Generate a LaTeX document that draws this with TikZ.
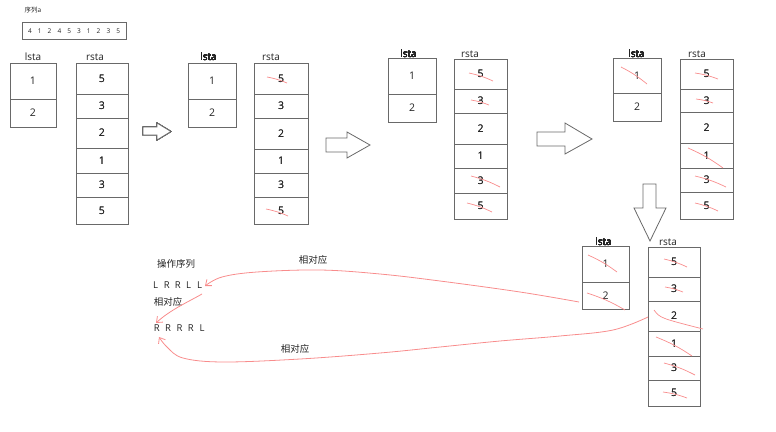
\documentclass[tikz,border=0pt]{standalone}
\usepackage{fontspec}
\setmainfont{Open Sans}
\newfontfamily\cjkfont{Noto Sans CJK SC}
\usetikzlibrary{arrows.meta}
\definecolor{boxgray}{RGB}{105,105,105}
\definecolor{pinkred}{RGB}{248,140,140}
\definecolor{darktext}{RGB}{35,35,35}
\tikzset{
 cellbox/.style={draw=boxgray, line width=0.8pt, inner sep=0pt, outer sep=0pt, font=\fontsize{10.5}{12}\selectfont, text=darktext},
 lbl/.style={inner sep=0pt, font=\fontsize{10}{12}\selectfont, text=darktext},
 blockarrow/.style={draw=boxgray, line width=0.8pt, fill=white, line join=miter},
 strike/.style={draw=pinkred, line width=0.7pt},
 redlink/.style={draw=pinkred, line width=0.8pt, -{Straight Barb[length=5pt,width=8pt]}},
 small/.style={inner sep=0pt, font=\fontsize{6.5}{8}\selectfont, text=darktext},
 note/.style={inner sep=0pt, font=\fontsize{9.5}{11}\selectfont, text=darktext},
}
\newcommand\cellnode[6]{\node[cellbox, minimum width={(#4-#2)*1pt}, minimum height={(#5-#3)*1pt}] (#1) at ({(#2+#4)/2},{(#3+#5)/2}) {#6};}
\begin{document}
\begin{tikzpicture}[x=1pt,y=-1pt]
\useasboundingbox (0,0) rectangle (776,431);
% title and sequence
\node[small] (title) at (33,10) {{\cjkfont 序列}a};
\node[draw=boxgray, line width=0.7pt, minimum width=104pt, minimum height=17pt, inner sep=0pt] (seqbox) at (74,31) {};
\foreach \dg [count=\i from 0] in {4,1,2,4,5,3,1,2,3,5}
  \node[small] (seq\i) at ({30+\i*9.8},31.5) {\dg};
% group 1
\node[lbl] (g1lt) at (33,57) {lsta};
\node[lbl] (g1rt) at (95,57) {rsta};
\foreach \ya/\yb/\val [count=\i] in {63/99/1,99/127/2}
  \cellnode{g1l\i}{10}{\ya}{56}{\yb}{\val}
\foreach \ya/\yb/\val [count=\i] in {63/94/5,94/118/3,118/148/2,148/173/1,173/197/3,197/224/5}
  \cellnode{g1r\i}{76}{\ya}{128}{\yb}{\val}
% group 2
\node[lbl] (g2lt) at (208.5,57) {lsta};
\node[lbl] (g2rt) at (271,57) {rsta};
\foreach \ya/\yb/\val [count=\i] in {63/99/1,99/127/2}
  \cellnode{g2l\i}{188}{\ya}{236}{\yb}{\val}
\foreach \ya/\yb/\val [count=\i] in {63/94/5,94/118/3,118/149/2,149/173/1,173/197/3,197/224/5}
  \cellnode{g2r\i}{254}{\ya}{308}{\yb}{\val}
% group 3
\node[lbl] (g3lt) at (408.5,54) {lsta};
\node[lbl] (g3rt) at (470,54) {rsta};
\foreach \ya/\yb/\val [count=\i] in {58/94/1,94/122/2}
  \cellnode{g3l\i}{388}{\ya}{436}{\yb}{\val}
\foreach \ya/\yb/\val [count=\i] in {59/89/5,89/113/3,113/144/2,144/168/1,168/193/3,193/219/5}
  \cellnode{g3r\i}{454}{\ya}{507}{\yb}{\val}
% group 4
\node[lbl] (g4lt) at (636.5,54) {lsta};
\node[lbl] (g4rt) at (697,54) {rsta};
\foreach \ya/\yb/\val [count=\i] in {58/93/1,93/121/2}
  \cellnode{g4l\i}{613}{\ya}{661}{\yb}{\val}
\foreach \ya/\yb/\val [count=\i] in {59/89/5,89/112/3,112/143/2,143/168/1,168/192/3,192/219/5}
  \cellnode{g4r\i}{680}{\ya}{733}{\yb}{\val}
% group 5
\node[lbl] (g5lt) at (603.5,242) {lsta};
\node[lbl] (g5rt) at (668,242) {rsta};
\foreach \ya/\yb/\val [count=\i] in {246/282/1,282/309/2}
  \cellnode{g5l\i}{582}{\ya}{629}{\yb}{\val}
\foreach \ya/\yb/\val [count=\i] in {247/277/5,277/301/3,301/331/2,331/356/1,356/380/3,380/406/5}
  \cellnode{g5r\i}{648}{\ya}{700}{\yb}{\val}
% block arrows
\draw[blockarrow] (143,127) -- (157,127) -- (157,123) -- (171,131.5) -- (157,140) -- (157,135) -- (143,135) -- cycle;
\draw[blockarrow] (326,138) -- (347,138) -- (347,132) -- (370,145) -- (347,158) -- (347,152) -- (326,152) -- cycle;
\draw[blockarrow] (537,132) -- (565,132) -- (565,123) -- (592,139) -- (565,154) -- (565,146) -- (537,146) -- cycle;
\draw[blockarrow] (643,184) -- (656,184) -- (656,208) -- (666,208) -- (650,241) -- (634,208) -- (643,208) -- cycle;
% strikes group 2
\draw[strike] (267,77) to[bend left=6] (287,83);
\draw[strike] (266,209) to[bend left=6] (288,216);
% strikes group 3
\draw[strike] (469,73) to[bend left=6] (493,81);
\draw[strike] (471,100) to[bend left=6] (489,105);
\draw[strike] (471,176) to[bend left=6] (500,187);
\draw[strike] (467,203) to[bend left=6] (492,212);
% strikes group 4
\draw[strike] (621,67) to[bend left=6] (647,84);
\draw[strike] (695,73) to[bend left=6] (718,79);
\draw[strike] (696,99) to[bend left=6] (713,103);
\draw[strike] (688,148) to[bend left=6] (723,168);
\draw[strike] (695,176) to[bend left=6] (726,187);
\draw[strike] (695,203) to[bend left=6] (718,211);
% strikes group 5
\draw[strike] (588,255) to[bend left=6] (617,272);
\draw[strike] (587,293) to[bend left=6] (625,310);
\draw[strike] (664,259) to[bend left=6] (687,267);
\draw[strike] (665,287) to[bend left=6] (683,292);
\draw[strike] (654,310) .. controls (660,318) .. (703,329);
\draw[strike] (656,337) to[bend left=6] (692,356);
\draw[strike] (664,363) to[bend left=6] (695,375);
\draw[strike] (663,392) to[bend left=6] (687,398);
% bottom texts
\node[note] (optitle) at (176,264) {\cjkfont 操作序列};
\node[note, anchor=west] (ops1) at (150,285) {\makebox[11pt]{L}\makebox[11pt]{R}\makebox[11pt]{R}\makebox[11pt]{L}\makebox[11pt]{L}};
\node[note] (corr1) at (168,302) {\cjkfont 相对应};
\node[note, anchor=west] (ops2) at (151,328) {\makebox[11.3pt]{R}\makebox[11.3pt]{R}\makebox[11.3pt]{R}\makebox[11.3pt]{R}\makebox[11.3pt]{L}};
\node[note] (corr2) at (313,260) {\cjkfont 相对应};
\node[note] (corr3) at (295,349) {\cjkfont 相对应};
% red connectors
\coordinate (u0) at (579,302);
\coordinate (uL) at (205,286);
\coordinate (d0) at (648,317);
\coordinate (dR) at (159,337);
\coordinate (mL) at (202,294);
\coordinate (mR) at (156,323);
\draw[redlink] plot[smooth, tension=0.6] coordinates {(u0) (520,292) (440,281) (380,274) (320,270) (257,272) (222,277) (uL)};
\draw[redlink] plot[smooth, tension=0.6] coordinates {(d0) (613,330) (560,336) (500,341) (440,347) (380,353) (300,359) (223,362) (183,358) (167,347) (dR)};
\draw[redlink] (mL) .. controls (188,302) and (170,310) .. (mR);
\end{tikzpicture}
\end{document}
